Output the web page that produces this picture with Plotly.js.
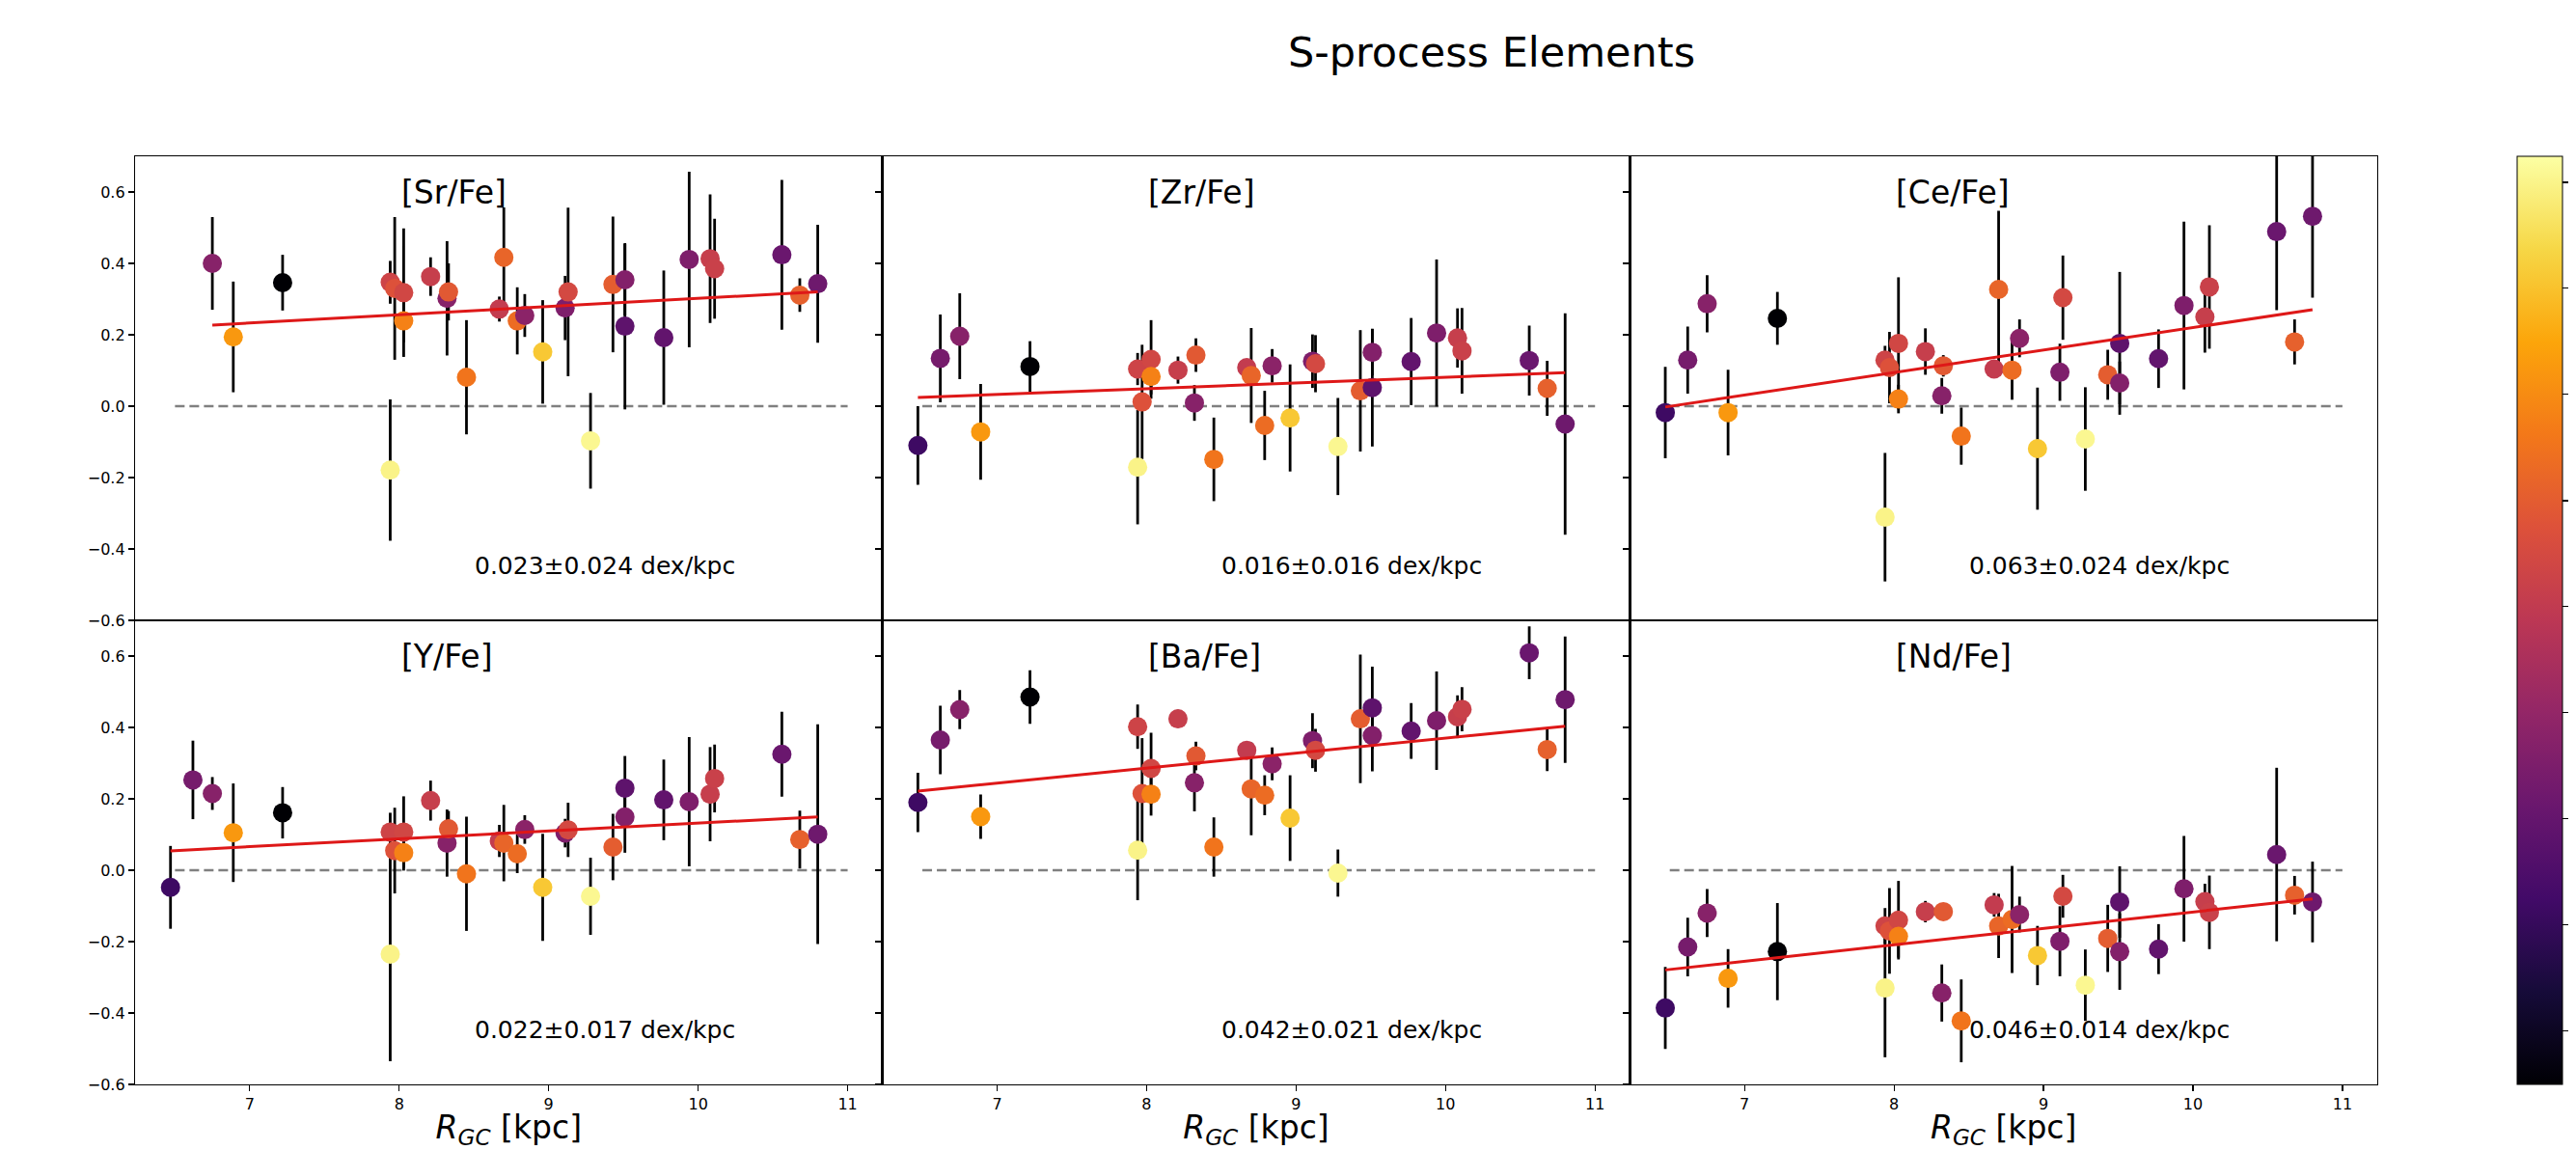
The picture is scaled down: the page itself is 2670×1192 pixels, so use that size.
<!DOCTYPE html>
<html>
<head>
<meta charset="utf-8">
<script src="https://cdn.plot.ly/plotly-3.0.1.min.js"></script>
<style>html,body{margin:0;padding:0;background:#fff;}</style>
</head>
<body>
<div id="chart" style="width:2670px;height:1192px;"></div>
<script>
// ---- Data ----
// Galactocentric radius of each star (kpc)
const R_GC = [6.47, 6.62, 6.75, 6.89, 7.22, 7.94, 7.94, 7.97, 8.03, 8.03, 8.21, 8.32, 8.33, 8.45, 8.67, 8.70,
              8.79, 8.84, 8.96, 9.11, 9.13, 9.28, 9.43, 9.51, 9.51, 9.77, 9.94, 10.08, 10.11, 10.56, 10.68, 10.80];
// Colour value of each star (position on the colour bar, 0 = bottom, 1 = top)
const colourValue = [0.19, 0.33, 0.37, 0.77, 0.0, 0.97, 0.55, 0.60, 0.56, 0.72, 0.53, 0.37, 0.62, 0.69, 0.52, 0.65,
                     0.67, 0.38, 0.87, 0.35, 0.57, 0.98, 0.63, 0.36, 0.27, 0.28, 0.35, 0.53, 0.54, 0.30, 0.64, 0.31];

const SrFe    = [null, null, 0.400, 0.194, 0.346, -0.179, 0.347, 0.330, 0.318, 0.239, 0.363, 0.302, 0.320, 0.081, 0.272, 0.417,
                 0.239, 0.254, 0.152, 0.275, 0.320, -0.097, 0.341, 0.354, 0.224, 0.192, 0.411, 0.413, 0.385, 0.424, 0.311, 0.343];
const SrFeErr = [null, null, 0.13, 0.155, 0.078, 0.198, 0.06, 0.20, 0.18, 0.06, 0.054, 0.16, 0.08, 0.16, 0.035, 0.14,
                 0.094, 0.06, 0.145, 0.09, 0.236, 0.134, 0.19, 0.10, 0.233, 0.188, 0.246, 0.18, 0.14, 0.21, 0.047, 0.165];

const ZrFe    = [-0.110, 0.134, 0.196, -0.072, 0.111, -0.171, 0.104, 0.012, 0.131, 0.083, 0.101, 0.009, 0.143, -0.149, 0.108, 0.086,
                 -0.054, 0.113, -0.033, 0.126, 0.119, -0.113, 0.043, 0.151, 0.052, 0.125, 0.205, 0.191, 0.155, 0.128, 0.050, -0.050];
const ZrFeErr = [0.11, 0.123, 0.12, 0.134, 0.071, 0.16, 0.045, 0.16, 0.11, 0.05, 0.038, 0.05, 0.047, 0.117, 0.01, 0.133,
                 0.097, 0.047, 0.15, 0.075, 0.08, 0.136, 0.17, 0.065, 0.165, 0.122, 0.206, 0.083, 0.12, 0.098, 0.077, 0.31];

const CeFe    = [-0.018, 0.129, 0.287, -0.018, 0.246, -0.311, 0.129, 0.108, 0.176, 0.020, 0.153, 0.029, 0.113, -0.084, 0.104, 0.327,
                 0.101, 0.190, -0.119, 0.095, 0.304, -0.092, 0.088, 0.065, 0.176, 0.133, 0.282, 0.250, 0.334, 0.489, 0.180, 0.532];
const CeFeErr = [0.128, 0.094, 0.08, 0.12, 0.074, 0.18, 0.04, 0.10, 0.185, 0.04, 0.065, 0.05, 0.03, 0.08, 0.02, 0.22,
                 0.083, 0.053, 0.171, 0.08, 0.118, 0.145, 0.07, 0.06, 0.20, 0.082, 0.235, 0.10, 0.173, 0.22, 0.063, 0.228];

const YFe     = [-0.048, 0.253, 0.215, 0.105, 0.161, -0.235, 0.107, 0.055, 0.107, 0.049, 0.195, 0.076, 0.116, -0.010, 0.082, 0.076,
                 0.046, 0.114, -0.048, 0.104, 0.113, -0.073, 0.065, 0.149, 0.230, 0.197, 0.192, 0.213, 0.257, 0.325, 0.086, 0.101];
const YFeErr  = [0.116, 0.11, 0.046, 0.138, 0.072, 0.30, 0.054, 0.12, 0.10, 0.05, 0.056, 0.094, 0.05, 0.16, 0.045, 0.107,
                 0.054, 0.04, 0.15, 0.04, 0.076, 0.108, 0.093, 0.10, 0.09, 0.113, 0.181, 0.132, 0.095, 0.119, 0.081, 0.308];

const BaFe    = [0.190, 0.365, 0.450, 0.150, 0.485, 0.056, 0.402, 0.215, 0.285, 0.213, 0.424, 0.245, 0.320, 0.065, 0.336, 0.228,
                 0.210, 0.298, 0.146, 0.363, 0.336, -0.008, 0.424, 0.377, 0.455, 0.390, 0.419, 0.430, 0.451, 0.609, 0.338, 0.478];
const BaFeErr = [0.083, 0.096, 0.055, 0.062, 0.075, 0.14, 0.062, 0.155, 0.10, 0.06, 0.025, 0.08, 0.04, 0.083, 0.022, 0.13,
                 0.056, 0.046, 0.12, 0.077, 0.06, 0.066, 0.18, 0.10, 0.115, 0.078, 0.138, 0.06, 0.062, 0.074, 0.06, 0.177];

const NdFe    = [-0.386, -0.215, -0.120, -0.303, -0.228, -0.330, -0.156, -0.170, -0.140, -0.185, -0.116, -0.344, -0.116, -0.422, -0.097, -0.156,
                 -0.138, -0.124, -0.239, -0.199, -0.073, -0.322, -0.191, -0.228, -0.089, -0.221, -0.052, -0.088, -0.118, 0.044, -0.070, -0.089];
const NdFeErr = [0.115, 0.082, 0.067, 0.082, 0.136, 0.194, 0.05, 0.12, 0.11, 0.06, 0.03, 0.08, 0.02, 0.116, 0.033, 0.09,
                 0.15, 0.05, 0.083, 0.098, 0.06, 0.10, 0.094, 0.107, 0.10, 0.07, 0.148, 0.05, 0.103, 0.243, 0.054, 0.113];

// Panel labels and linear-fit results (slope from the panel text, intercept)
const elementLabels = ['[Sr/Fe]', '[Zr/Fe]', '[Ce/Fe]', '[Y/Fe]', '[Ba/Fe]', '[Nd/Fe]'];
const gradient      = [0.023, 0.016, 0.063, 0.022, 0.042, 0.046];
const gradientErr   = [0.024, 0.016, 0.024, 0.017, 0.021, 0.014];
const intercept     = [0.072, -0.079, -0.410, -0.088, -0.050, -0.577];

const zeroLineX   = [6.5, 11.0];
const xTicks      = [7, 8, 9, 10, 11];
const yTicks      = [-0.6, -0.4, -0.2, 0.0, 0.2, 0.4, 0.6];
const colourTicks = [0.058, 0.172, 0.286, 0.401, 0.515, 0.629, 0.744, 0.858, 0.972];

// ---- Plot construction ----
const panelValues = [SrFe, ZrFe, CeFe, YFe, BaFe, NdFe];
const panelErrors = [SrFeErr, ZrFeErr, CeFeErr, YFeErr, BaFeErr, NdFeErr];

const inferno = [
  [0.0, '#000004'], [0.1, '#160b39'], [0.2, '#420a68'], [0.3, '#6a176e'], [0.4, '#932667'],
  [0.5, '#bc3754'], [0.6, '#dd513a'], [0.7, '#f37819'], [0.8, '#fca50a'], [0.9, '#f6d746'], [1.0, '#fcffa4']
];

const FONT = 'DejaVu Sans, Liberation Sans, sans-serif';
const traces = [];
const annotations = [];
const layout = {
  width: 2670, height: 1192,
  margin: {l: 140, r: 206, t: 162, b: 68, autoexpand: false},
  paper_bgcolor: '#ffffff', plot_bgcolor: '#ffffff',
  showlegend: false,
  font: {family: FONT, color: '#000'},
  title: {
    text: 'S-process Elements',
    font: {family: FONT, size: 43, color: '#000'},
    xref: 'container', x: 1546 / 2670, xanchor: 'center',
    yref: 'container', y: 1 - 54 / 1192, yanchor: 'middle'
  },
  annotations: annotations
};

for (let p = 0; p < 6; p++) {
  const row = Math.floor(p / 3);
  const col = p % 3;
  const sfx = p === 0 ? '' : String(p + 1);
  const xa = 'x' + sfx, ya = 'y' + sfx;
  const vals = panelValues[p], errs = panelErrors[p];

  const xs = [], ys = [], es = [], cs = [];
  for (let i = 0; i < R_GC.length; i++) {
    if (vals[i] === null) continue;
    xs.push(R_GC[i]); ys.push(vals[i]); es.push(errs[i]); cs.push(colourValue[i]);
  }

  // zero reference line
  traces.push({
    x: zeroLineX, y: [0, 0], xaxis: xa, yaxis: ya, mode: 'lines', hoverinfo: 'skip',
    line: {color: '#808080', width: 2.5, dash: '10px,5px'}
  });

  // stars with error bars
  const marker = {
    color: cs, colorscale: inferno, cmin: 0, cmax: 1, size: 20, line: {width: 0}, opacity: 1,
    showscale: p === 0
  };
  if (p === 0) {
    marker.colorbar = {
      x: (2609 - 140) / 2324, xref: 'paper', xanchor: 'left', xpad: 0,
      y: 0.5, yanchor: 'middle', ypad: 0,
      len: 1, lenmode: 'fraction', thickness: 47, thicknessmode: 'pixels',
      outlinewidth: 1, outlinecolor: '#000',
      tickmode: 'array', tickvals: colourTicks, ticks: 'outside', ticklen: 6, tickwidth: 1.2, tickcolor: '#000',
      showticklabels: false
    };
  }
  traces.push({
    x: xs, y: ys, xaxis: xa, yaxis: ya, mode: 'markers', type: 'scatter',
    error_y: {type: 'data', array: es, visible: true, color: '#000', thickness: 2.8, width: 0},
    marker: marker
  });

  // linear fit
  const xmin = Math.min(...xs), xmax = Math.max(...xs);
  traces.push({
    x: [xmin, xmax], y: [intercept[p] + gradient[p] * xmin, intercept[p] + gradient[p] * xmax],
    xaxis: xa, yaxis: ya, mode: 'lines', hoverinfo: 'skip',
    line: {color: 'rgb(222,24,24)', width: 3}
  });

  const bottom = row === 1;
  const xaxis = {
    domain: [col / 3, (col + 1) / 3], anchor: ya, range: [6.233, 11.233],
    showline: true, mirror: true, linecolor: '#000', linewidth: 1.2,
    showgrid: false, zeroline: false,
    tickmode: 'array', tickvals: xTicks, ticktext: xTicks.map(String),
    ticks: bottom ? 'outside' : '', ticklen: 6, tickwidth: 1.2, tickcolor: '#000',
    showticklabels: bottom, tickfont: {family: FONT, size: 16, color: '#000'}
  };
  if (bottom) {
    xaxis.title = {text: '<i>R</i><sub><i>GC</i></sub> [kpc]', font: {family: FONT, size: 33, color: '#000'}, standoff: 6};
  }
  layout['xaxis' + sfx] = xaxis;
  layout['yaxis' + sfx] = {
    domain: row === 0 ? [0.5, 1] : [0, 0.5], anchor: xa, range: [-0.6, 0.7],
    showline: true, mirror: true, linecolor: '#000', linewidth: 1.2,
    showgrid: false, zeroline: false,
    tickmode: 'array', tickvals: yTicks, ticktext: yTicks.map(v => (v < 0 ? '\u2212' : '') + Math.abs(v).toFixed(1)),
    ticks: 'outside', ticklen: 6, tickwidth: 1.2, tickcolor: '#000',
    showticklabels: col === 0, tickfont: {family: FONT, size: 16, color: '#000'}
  };

  annotations.push({
    xref: xa, yref: ya, x: 8.0, y: 0.60, xanchor: 'left', yanchor: 'middle', showarrow: false,
    text: elementLabels[p], font: {family: FONT, size: 33, color: '#000'}
  });
  annotations.push({
    xref: xa, yref: ya, x: 8.49, y: -0.447, xanchor: 'left', yanchor: 'middle', showarrow: false,
    text: gradient[p].toFixed(3) + '\u00b1' + gradientErr[p].toFixed(3) + ' dex/kpc',
    font: {family: FONT, size: 25, color: '#000'}
  });
}

Plotly.newPlot('chart', traces, layout, {staticPlot: true, displayModeBar: false});
</script>
</body>
</html>
